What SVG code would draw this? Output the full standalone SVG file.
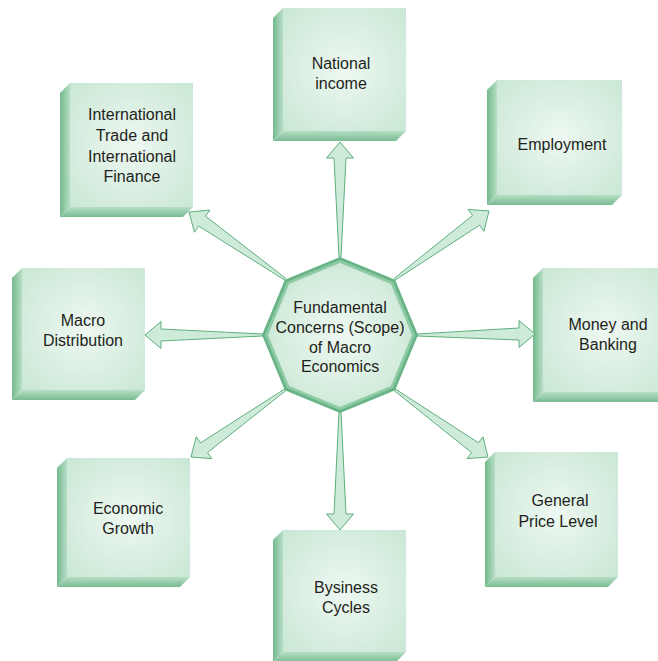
<svg xmlns="http://www.w3.org/2000/svg" width="658" height="661" viewBox="0 0 658 661">
<defs>
<radialGradient id="faceG" cx="0.5" cy="0.5" r="0.7">
<stop offset="0" stop-color="#eef8f2"/>
<stop offset="1" stop-color="#c9e7d4"/>
</radialGradient>
<linearGradient id="leftG" x1="0" y1="0" x2="1" y2="0">
<stop offset="0" stop-color="#74b98e"/>
<stop offset="1" stop-color="#b7dec5"/>
</linearGradient>
<linearGradient id="botG" x1="0" y1="0" x2="0" y2="1">
<stop offset="0" stop-color="#b7dec5"/>
<stop offset="1" stop-color="#78bb91"/>
</linearGradient>
<radialGradient id="octG" cx="0.5" cy="0.5" r="0.6">
<stop offset="0" stop-color="#eef8f2"/>
<stop offset="0.75" stop-color="#d3ecdc"/>
<stop offset="1" stop-color="#b9e0c7"/>
</radialGradient>
</defs>
<style>
.face{fill:url(#faceG)}
.left{fill:url(#leftG)}
.bot{fill:url(#botG)}
.arrow{fill:#cdebd8;stroke:#5fae7e;stroke-width:1;stroke-linejoin:miter}
text{font-family:"Liberation Sans",Arial,sans-serif;font-size:16px;fill:#231f20;text-anchor:middle}
</style>
<rect width="658" height="661" fill="#ffffff"/>

<g id="national-income">
<rect class="face" x="283" y="8" width="123" height="123"/>
<polygon class="left" points="273,18 283,8 283,131 273,141"/>
<polygon class="bot" points="273,141 283,131 406,131 396,141"/>
<text x="341" y="69">National</text>
<text x="341" y="89">income</text>
</g>

<g id="employment">
<rect class="face" x="497" y="80" width="125" height="115"/>
<polygon class="left" points="487,90 497,80 497,195 487,205"/>
<polygon class="bot" points="487,205 497,195 622,195 612,205"/>
<text x="562" y="150">Employment</text>
</g>

<g id="international-trade">
<rect class="face" x="70" y="83" width="123" height="124"/>
<polygon class="left" points="60,93 70,83 70,207 60,217"/>
<polygon class="bot" points="60,217 70,207 193,207 183,217"/>
<text x="132" y="120">International</text>
<text x="132" y="141">Trade and</text>
<text x="132" y="162">International</text>
<text x="132" y="182">Finance</text>
</g>

<g id="macro-distribution">
<rect class="face" x="22" y="268" width="123" height="122"/>
<polygon class="left" points="12,278 22,268 22,390 12,400"/>
<polygon class="bot" points="12,400 22,390 145,390 135,400"/>
<text x="83" y="326">Macro</text>
<text x="83" y="346">Distribution</text>
</g>

<g id="money-banking">
<rect class="face" x="543" y="268" width="127" height="124"/>
<polygon class="left" points="533,278 543,268 543,392 533,402"/>
<polygon class="bot" points="533,402 543,392 670,392 660,402"/>
<text x="608" y="330">Money and</text>
<text x="608" y="350">Banking</text>
</g>

<g id="general-price-level">
<rect class="face" x="495" y="452" width="123" height="125"/>
<polygon class="left" points="485,462 495,452 495,577 485,587"/>
<polygon class="bot" points="485,587 495,577 618,577 608,587"/>
<text x="560" y="506">General</text>
<text x="558" y="527">Price Level</text>
</g>

<g id="business-cycles">
<rect class="face" x="283" y="530" width="123" height="122"/>
<polygon class="left" points="273,540 283,530 283,652 273,662"/>
<polygon class="bot" points="273,662 283,652 406,652 396,662"/>
<text x="346" y="593">Bysiness</text>
<text x="346" y="613">Cycles</text>
</g>

<g id="economic-growth">
<rect class="face" x="67" y="458" width="123" height="119"/>
<polygon class="left" points="57,468 67,458 67,577 57,587"/>
<polygon class="bot" points="57,587 67,577 190,577 180,587"/>
<text x="128" y="514">Economic</text>
<text x="128" y="534">Growth</text>
</g>

<g id="connectors">
<polygon class="arrow" points="341,257 346,158 353.5,158 340,142 326.5,158 334,158 339,257"/>
<polygon class="arrow" points="285.57,278.18 205.55,216.23 209.84,210.08 189,212 194.40,232.22 198.69,226.07 284.43,279.82"/>
<polygon class="arrow" points="395.59,279.81 479.56,225.24 483.95,231.32 489,211 468.13,209.44 472.52,215.52 394.41,278.19"/>
<polygon class="arrow" points="417,336 519,340 519,347.5 535,334 519,320.5 519,328 417,334"/>
<polygon class="arrow" points="263,336 161,341 161,348.5 145,335 161,321.5 161,329 263,334"/>
<polygon class="arrow" points="284.42,389.19 200.55,442.83 196.20,436.72 191,457 211.86,458.70 207.51,452.59 285.58,390.81"/>
<polygon class="arrow" points="341,412 346,514 353.5,514 340,530 326.5,514 334,514 339,412"/>
<polygon class="arrow" points="394.42,390.81 471.51,452.52 467.12,458.60 488,457 482.92,436.70 478.53,442.78 395.58,389.19"/>
</g>

<g id="center">
<polygon points="340,257 395.15,279.85 418,335 395.15,390.15 340,413 284.85,390.15 262,335 284.85,279.85" fill="#68b486"/>
<polygon points="340,260 393.03,281.97 415,335 393.03,388.03 340,410 286.97,388.03 265,335 286.97,281.97" fill="#8ecba5"/>
<polygon points="340,263 390.91,284.09 412,335 390.91,385.91 340,407 289.09,385.91 268,335 289.09,284.09" fill="url(#octG)"/>
<text x="340" y="313">Fundamental</text>
<text x="340" y="333">Concerns (Scope)</text>
<text x="340" y="353">of Macro</text>
<text x="340" y="372">Economics</text>
</g>
</svg>
